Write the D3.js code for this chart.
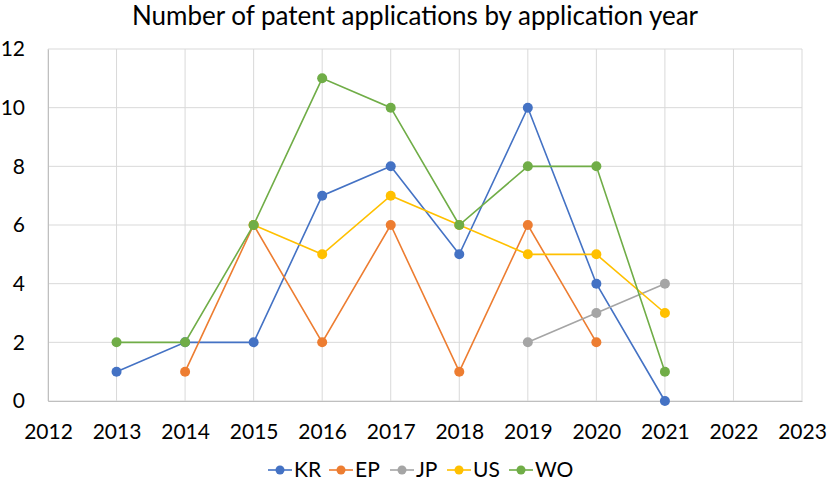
<!DOCTYPE html>
<html>
<head>
<meta charset="utf-8">
<script src="https://cdn.jsdelivr.net/npm/d3@7"></script>
<style>
  body { margin: 0; background: #fff; }
  text { font-family: Lato, "Open Sans", sans-serif; fill: #000; }
</style>
</head>
<body>
<svg id="chart" width="830" height="485"></svg>
<script>
var years = [2013, 2014, 2015, 2016, 2017, 2018, 2019, 2020, 2021];
var seriesNames = ["KR", "EP", "JP", "US", "WO"];
var colors = ["#4472C4", "#ED7D31", "#A5A5A5", "#FFC000", "#70AD47"];
var kr = [1, 2, 2, 7, 8, 5, 10, 4, 0];
var ep = [null, 1, 6, 2, 6, 1, 6, 2, null];
var jp = [null, null, null, null, null, null, 2, 3, 4];
var us = [null, null, 6, 5, 7, 6, 5, 5, 3];
var wo = [2, 2, 6, 11, 10, 6, 8, 8, 1];
var xTicks = d3.range(2012, 2024);
var yTicks = [0, 2, 4, 6, 8, 10, 12];

var values = [kr, ep, jp, us, wo];

var svg = d3.select("#chart");
var plotLeft = 48, plotRight = 802, plotTop = 49, plotBottom = 401;

var x = d3.scaleLinear().domain([2012, 2023]).range([plotLeft, plotRight]);
var y = d3.scaleLinear().domain([0, 12]).range([plotBottom, plotTop]);

// title
svg.append("text")
    .attr("x", 415)
    .attr("y", 25)
    .attr("text-anchor", "middle")
    .style("font-size", "26px")
    .text("Number of patent applications by application year");

// grid
svg.append("g").selectAll("line").data(yTicks).enter().append("line")
    .attr("x1", plotLeft).attr("x2", plotRight)
    .attr("y1", d => y(d)).attr("y2", d => y(d))
    .attr("stroke", "#d9d9d9").attr("stroke-width", 1);
svg.append("g").selectAll("line").data(xTicks).enter().append("line")
    .attr("x1", d => x(d)).attr("x2", d => x(d))
    .attr("y1", plotTop).attr("y2", plotBottom)
    .attr("stroke", "#d9d9d9").attr("stroke-width", 1);

// axes
var yAxis = svg.append("g")
    .attr("transform", "translate(" + plotLeft + ",0)")
    .call(d3.axisLeft(y).tickValues(yTicks).tickSize(0).tickPadding(23));
yAxis.select(".domain").attr("stroke", "#bfbfbf");
yAxis.selectAll("text").style("font-size", "21px").style("font-family", "Lato, sans-serif");

var xAxis = svg.append("g")
    .attr("transform", "translate(0," + plotBottom + ")")
    .call(d3.axisBottom(x).tickValues(xTicks).tickFormat(d3.format("d")).tickSize(0).tickPadding(23));
xAxis.select(".domain").attr("stroke", "#bfbfbf");
xAxis.selectAll("text").style("font-size", "21px").style("font-family", "Lato, sans-serif");

// series
var line = d3.line()
    .defined(d => d.v !== null)
    .x(d => x(d.year))
    .y(d => y(d.v));

seriesNames.forEach(function (name, i) {
    var pts = years.map((yr, j) => ({ year: yr, v: values[i][j] }));
    var g = svg.append("g").attr("class", "series-" + name);
    g.append("path")
        .datum(pts)
        .attr("fill", "none")
        .attr("stroke", colors[i])
        .attr("stroke-width", 1.6)
        .attr("d", line);
    g.selectAll("circle").data(pts.filter(d => d.v !== null)).enter().append("circle")
        .attr("cx", d => x(d.year))
        .attr("cy", d => y(d.v))
        .attr("r", 5)
        .attr("fill", colors[i]);
});

// legend
var legendX = [268, 329, 390, 447, 509];
var legend = svg.append("g").attr("transform", "translate(0,470)");
seriesNames.forEach(function (name, i) {
    var lg = legend.append("g").attr("transform", "translate(" + legendX[i] + ",0)");
    lg.append("line").attr("x1", 0).attr("x2", 24).attr("y1", 0).attr("y2", 0)
        .attr("stroke", colors[i]).attr("stroke-width", 1.6);
    lg.append("circle").attr("cx", 12).attr("cy", 0).attr("r", 4.5).attr("fill", colors[i]);
    lg.append("text").attr("x", 26).attr("y", 7)
        .style("font-size", "21px").text(name);
});
</script>
</body>
</html>
